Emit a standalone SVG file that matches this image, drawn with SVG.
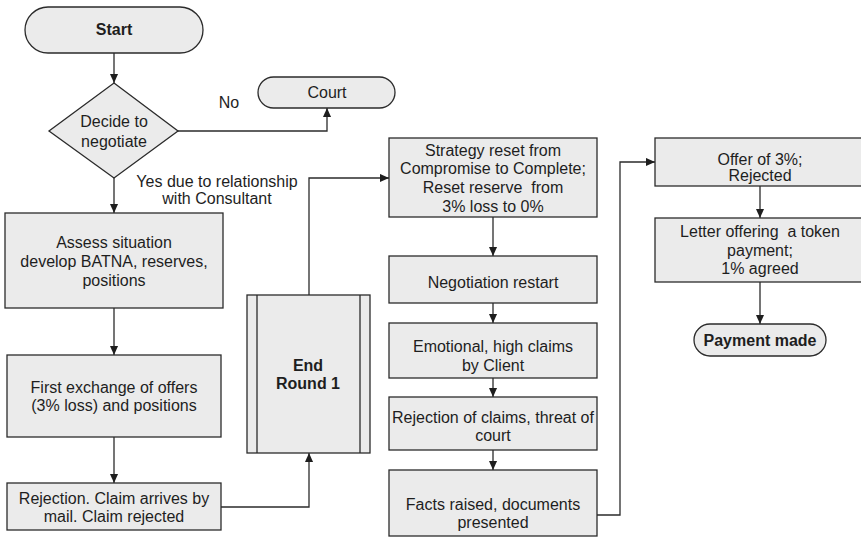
<svg xmlns="http://www.w3.org/2000/svg" width="861" height="539" viewBox="0 0 861 539">
  <style>
    .box { fill: #ebebeb; stroke: #2b2b2b; stroke-width: 1.3; }
    .line { fill: none; stroke: #2b2b2b; stroke-width: 1.3; }
    text { font-family: "Liberation Sans", Arial, sans-serif; font-size: 16px; fill: #1e1e1e; text-anchor: middle; white-space: pre; }
    .b { font-weight: bold; }
  </style>
  <defs>
    <marker id="arrow" viewBox="0 0 10 10" refX="10" refY="5" markerWidth="9" markerHeight="9" markerUnits="userSpaceOnUse" orient="auto">
      <path d="M0,0.5 L10,5 L0,9.5 z" fill="#1e1e1e"/>
    </marker>
  </defs>

  <rect width="861" height="539" fill="#ffffff"/>

  <!-- connectors -->
  <g id="connectors">
    <path class="line" d="M114,53 V83" marker-end="url(#arrow)"/>
    <path class="line" d="M178,131 H327 V108" marker-end="url(#arrow)"/>
    <path class="line" d="M114,178 V213" marker-end="url(#arrow)"/>
    <path class="line" d="M114,308 V355" marker-end="url(#arrow)"/>
    <path class="line" d="M114,437 V483" marker-end="url(#arrow)"/>
    <path class="line" d="M221,507 H309 V453" marker-end="url(#arrow)"/>
    <path class="line" d="M309,295 V178 H389" marker-end="url(#arrow)"/>
    <path class="line" d="M493,217 V256" marker-end="url(#arrow)"/>
    <path class="line" d="M493,303 V323" marker-end="url(#arrow)"/>
    <path class="line" d="M493,378 V397" marker-end="url(#arrow)"/>
    <path class="line" d="M493,450 V470" marker-end="url(#arrow)"/>
    <path class="line" d="M597,515 H620 V162 H655" marker-end="url(#arrow)"/>
    <path class="line" d="M760,186 V218" marker-end="url(#arrow)"/>
    <path class="line" d="M760,282 V324" marker-end="url(#arrow)"/>
    <text x="229" y="108">No</text>
    <text x="217" y="187">Yes due to relationship</text>
    <text x="217" y="204">with Consultant</text>
  </g>

  <g id="start">
    <rect class="box" x="25" y="7" width="178" height="46" rx="23"/>
    <text class="b" x="114" y="35">Start</text>
  </g>

  <g id="decide">
    <path class="box" d="M114,83 L178,131 L114,178 L49,131 Z"/>
    <text x="114" y="127">Decide to</text>
    <text x="114" y="147">negotiate</text>
  </g>

  <g id="court">
    <rect class="box" x="258" y="77" width="137" height="31" rx="15.5"/>
    <text x="327" y="98">Court</text>
  </g>

  <g id="assess">
    <rect class="box" x="5" y="213" width="218" height="95"/>
    <text x="114" y="248">Assess situation</text>
    <text x="114" y="267">develop BATNA, reserves,</text>
    <text x="114" y="286">positions</text>
  </g>

  <g id="first-exchange">
    <rect class="box" x="7" y="355" width="214" height="82"/>
    <text x="114" y="393">First exchange of offers</text>
    <text x="114" y="411">(3% loss) and positions</text>
  </g>

  <g id="rejection">
    <rect class="box" x="7" y="483" width="214" height="47"/>
    <text x="114" y="504">Rejection. Claim arrives by</text>
    <text x="114" y="522">mail. Claim rejected</text>
  </g>

  <g id="end-round-1">
    <rect class="box" x="247" y="295" width="123" height="158"/>
    <line class="line" x1="257" y1="295" x2="257" y2="453"/>
    <line class="line" x1="360" y1="295" x2="360" y2="453"/>
    <text class="b" x="308" y="371">End</text>
    <text class="b" x="308" y="389">Round 1</text>
  </g>

  <g id="strategy-reset">
    <rect class="box" x="389" y="138" width="208" height="79"/>
    <text x="493" y="156">Strategy reset from</text>
    <text x="493" y="174">Compromise to Complete;</text>
    <text x="493" y="193">Reset reserve  from</text>
    <text x="493" y="212">3% loss to 0%</text>
  </g>

  <g id="negotiation-restart">
    <rect class="box" x="389" y="256" width="208" height="47"/>
    <text x="493" y="288">Negotiation restart</text>
  </g>

  <g id="emotional-claims">
    <rect class="box" x="389" y="323" width="208" height="55"/>
    <text x="493" y="352">Emotional, high claims</text>
    <text x="493" y="371">by Client</text>
  </g>

  <g id="rejection-of-claims">
    <rect class="box" x="389" y="397" width="208" height="53"/>
    <text x="493" y="423">Rejection of claims, threat of</text>
    <text x="493" y="441">court</text>
  </g>

  <g id="facts-raised">
    <rect class="box" x="389" y="470" width="208" height="66"/>
    <text x="493" y="510">Facts raised, documents</text>
    <text x="493" y="528">presented</text>
  </g>

  <g id="offer">
    <rect class="box" x="655" y="138" width="212" height="48"/>
    <text x="760" y="165">Offer of 3%;</text>
    <text x="760" y="181">Rejected</text>
  </g>

  <g id="letter">
    <rect class="box" x="655" y="218" width="212" height="64"/>
    <text x="760" y="237">Letter offering  a token</text>
    <text x="760" y="256">payment;</text>
    <text x="760" y="274">1% agreed</text>
  </g>

  <g id="payment-made">
    <rect class="box" x="694" y="324" width="132" height="32" rx="16"/>
    <text class="b" x="760" y="346">Payment made</text>
  </g>
</svg>
